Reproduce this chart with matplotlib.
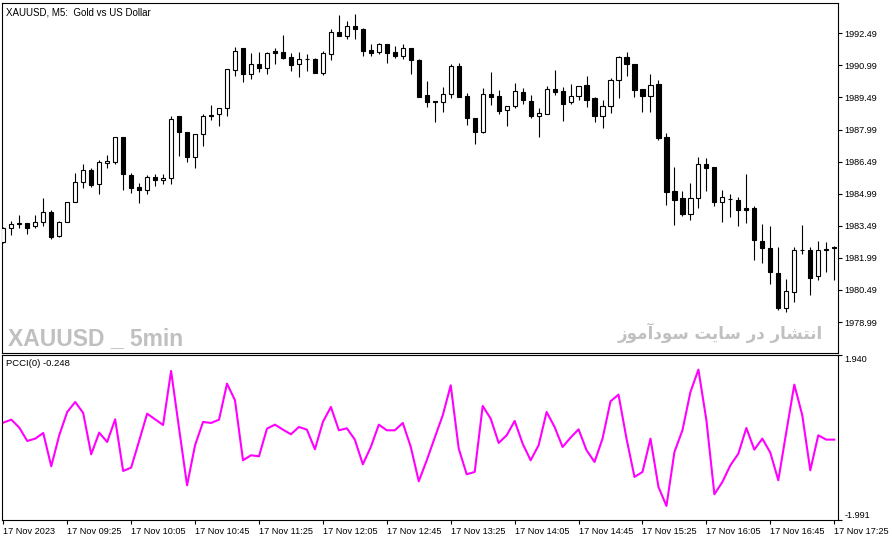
import matplotlib.pyplot as plt
from matplotlib.patches import Rectangle

plt.rcParams['font.family'] = ['Liberation Sans', 'DejaVu Sans']

# XAUUSD M5 candles, 17 Nov 2023 from 08:45
opens = [1982.75, 1983.37, 1983.56, 1983.62, 1983.47, 1983.65, 1984.12, 1983.00, 1983.65, 1984.62,
         1985.52, 1986.08, 1985.43, 1986.42, 1986.49, 1987.64, 1985.86, 1985.30, 1985.15, 1985.77,
         1985.62, 1985.71, 1988.61, 1987.86, 1986.71, 1987.77, 1988.67, 1988.70, 1989.01, 1990.79,
         1991.79, 1990.60, 1991.04, 1990.88, 1991.66, 1991.60, 1991.38, 1991.04, 1991.28, 1991.29,
         1990.63, 1991.54, 1992.54, 1992.35, 1992.85, 1992.69, 1991.72, 1991.60, 1992.00, 1991.63,
         1991.41, 1991.79, 1991.26, 1989.61, 1989.32, 1989.29, 1989.64, 1990.97, 1989.57, 1988.52,
         1987.89, 1989.64, 1989.56, 1988.89, 1989.10, 1989.73, 1989.32, 1988.64, 1988.73, 1989.89,
         1989.79, 1989.29, 1989.54, 1990.07, 1989.45, 1988.64, 1989.08, 1990.29, 1991.38, 1991.04,
         1989.89, 1989.57, 1990.13, 1987.64, 1985.12, 1984.77, 1984.03, 1984.77, 1986.36, 1986.24,
         1984.59, 1984.74, 1984.68, 1984.33, 1984.33, 1982.78, 1982.46, 1981.28, 1979.63, 1980.41,
         1982.34, 1982.37, 1981.13, 1982.40, 1982.50]
highs = [1983.43, 1983.71, 1983.99, 1983.62, 1983.99, 1984.80, 1984.21, 1983.71, 1984.62, 1985.96,
         1986.39, 1986.21, 1986.55, 1986.80, 1987.64, 1987.64, 1985.96, 1985.49, 1985.86, 1985.90,
         1985.90, 1988.64, 1988.62, 1987.86, 1987.77, 1988.70, 1989.14, 1988.98, 1990.82, 1991.85,
         1991.79, 1991.57, 1991.60, 1991.63, 1991.79, 1992.41, 1991.57, 1991.60, 1991.54, 1991.32,
         1991.66, 1992.69, 1993.35, 1993.07, 1993.38, 1992.72, 1992.00, 1992.04, 1992.00, 1991.91,
         1992.00, 1991.79, 1991.29, 1990.26, 1989.32, 1989.98, 1991.04, 1991.10, 1989.70, 1988.54,
         1989.92, 1990.69, 1989.82, 1989.10, 1990.17, 1989.92, 1989.61, 1988.98, 1990.01, 1990.79,
         1989.98, 1990.13, 1990.01, 1990.51, 1989.51, 1989.39, 1990.41, 1991.44, 1991.63, 1991.04,
         1989.89, 1990.60, 1990.32, 1987.83, 1986.24, 1985.12, 1985.49, 1986.71, 1986.67, 1986.24,
         1985.15, 1984.99, 1984.84, 1985.92, 1984.43, 1983.59, 1983.49, 1982.50, 1981.00, 1982.50,
         1983.53, 1982.50, 1982.78, 1982.75, 1982.56]
lows = [1982.68, 1983.06, 1983.37, 1983.09, 1983.37, 1983.49, 1982.87, 1982.97, 1983.65, 1984.62,
        1985.27, 1985.30, 1984.99, 1986.21, 1986.36, 1985.15, 1985.02, 1984.56, 1984.99, 1985.36,
        1985.43, 1985.43, 1986.74, 1986.49, 1986.21, 1987.23, 1988.42, 1988.17, 1988.64, 1990.51,
        1990.23, 1990.35, 1990.69, 1990.60, 1991.07, 1991.29, 1990.73, 1990.45, 1990.73, 1990.63,
        1990.54, 1991.26, 1992.35, 1992.22, 1992.22, 1991.44, 1991.41, 1991.54, 1991.10, 1991.35,
        1991.29, 1990.60, 1989.51, 1989.04, 1988.36, 1988.82, 1989.48, 1989.51, 1988.20, 1987.33,
        1987.83, 1989.14, 1988.73, 1988.14, 1989.01, 1989.20, 1988.54, 1987.64, 1988.73, 1989.61,
        1988.39, 1989.17, 1989.39, 1989.04, 1988.36, 1988.08, 1988.76, 1989.48, 1990.51, 1989.51,
        1988.82, 1988.80, 1987.49, 1984.46, 1983.53, 1983.93, 1983.77, 1984.34, 1985.12, 1984.40,
        1983.68, 1983.90, 1983.49, 1983.62, 1981.90, 1981.75, 1980.78, 1979.54, 1979.44, 1979.94,
        1982.16, 1980.25, 1980.97, 1981.34, 1980.97]
closes = [1983.37, 1983.56, 1983.62, 1983.37, 1983.65, 1984.12, 1982.97, 1983.65, 1984.59, 1985.52,
          1986.08, 1985.40, 1986.46, 1986.52, 1987.64, 1985.92, 1985.27, 1985.18, 1985.77, 1985.62,
          1985.74, 1988.48, 1987.86, 1986.71, 1987.77, 1988.61, 1988.61, 1988.98, 1990.82, 1991.66,
          1990.60, 1991.04, 1990.88, 1991.57, 1991.57, 1991.35, 1991.01, 1991.29, 1991.30, 1990.63,
          1991.57, 1992.54, 1992.35, 1992.82, 1992.69, 1991.66, 1991.57, 1992.00, 1991.57, 1991.44,
          1991.79, 1991.23, 1989.51, 1989.29, 1989.30, 1989.64, 1990.97, 1989.51, 1988.52, 1987.89,
          1989.64, 1989.51, 1988.86, 1989.10, 1989.79, 1989.36, 1988.64, 1988.76, 1989.89, 1989.76,
          1989.20, 1989.54, 1990.01, 1989.39, 1988.64, 1989.08, 1990.29, 1991.38, 1991.04, 1989.85,
          1989.57, 1990.07, 1987.61, 1985.08, 1984.71, 1984.03, 1984.77, 1986.36, 1986.21, 1984.62,
          1984.84, 1984.75, 1984.21, 1984.24, 1982.81, 1982.44, 1981.31, 1979.66, 1980.44, 1982.37,
          1982.36, 1981.06, 1982.37, 1982.34, 1982.44]

pcci = [0.336, 0.407, 0.217, -0.101, -0.045, 0.090, -0.704, 0.034, 0.590, 0.828,
        0.566, -0.418, 0.098, -0.125, 0.415, -0.816, -0.736, -0.101, 0.550, 0.415,
        0.280, 1.567, 0.193, -1.157, -0.204, 0.352, 0.328, 0.407, 1.265, 0.868,
        -0.561, -0.442, -0.466, 0.193, 0.288, 0.169, 0.058, 0.233, 0.169, -0.299,
        0.352, 0.709, 0.153, 0.201, -0.069, -0.657, -0.244, 0.288, 0.153, 0.153,
        0.328, -0.244, -1.062, -0.561, -0.021, 0.511, 1.225, -0.283, -0.895, -0.839,
        0.733, 0.431, -0.148, 0.034, 0.376, -0.164, -0.561, -0.204, 0.590, 0.233,
        -0.244, -0.021, 0.177, -0.323, -0.601, -0.045, 0.844, 1.003, -0.045, -0.958,
        -0.839, -0.045, -1.197, -1.649, -0.363, 0.153, 1.066, 1.599, 0.392, -1.371,
        -1.078, -0.681, -0.403, 0.209, -0.307, -0.045, -0.379, -1.038, 0.114, 1.241,
        0.511, -0.800, 0.034, -0.069, -0.069]

price_ticks = [1992.49, 1990.99, 1989.49, 1987.99, 1986.49, 1984.99, 1983.49, 1981.99, 1980.49, 1978.99]
time_labels = ['17 Nov 2023', '17 Nov 09:25', '17 Nov 10:05', '17 Nov 10:45', '17 Nov 11:25',
               '17 Nov 12:05', '17 Nov 12:45', '17 Nov 13:25', '17 Nov 14:05', '17 Nov 14:45',
               '17 Nov 15:25', '17 Nov 16:05', '17 Nov 16:45', '17 Nov 17:25']
pcci_range = [-1.991, 1.940]

fig = plt.figure(figsize=(8.92, 5.41), dpi=100)
W, H = 892, 541
left, right = 2.3, 838
ax = fig.add_axes([left / W, 1 - 353.3 / H, (right - left) / W, (353.3 - 2.5) / H])
ax2 = fig.add_axes([left / W, 1 - 520.3 / H, (right - left) / W, (520.3 - 355.3) / H])

n = len(opens)
xs = list(range(n))
bw = 0.52
for i in xs:
    o, h, l, c = opens[i], highs[i], lows[i], closes[i]
    ax.vlines(i, l, h, color='black', lw=0.8, zorder=2)
    face = 'white' if c >= o else 'black'
    ax.add_patch(Rectangle((i - bw / 2, min(o, c)), bw, abs(c - o), facecolor=face,
                           edgecolor='black', lw=0.8, zorder=3))

xlim = (-0.125, 104.47)
ax.set_xlim(*xlim)
ax.set_ylim(1977.53, 1993.93)
ax.set_xticks([])
ax.yaxis.tick_right()
ax.set_yticks(price_ticks)
ax.set_yticklabels(['%.2f' % p for p in price_ticks])
ax.tick_params(axis='y', length=3, width=0.8, pad=1.5, labelsize=6.6)
for s in ax.spines.values():
    s.set_linewidth(0.8)

ax.text(0.004, 0.985, 'XAUUSD, M5:  Gold vs US Dollar', transform=ax.transAxes,
        fontsize=7, va='top', ha='left')

# watermarks
fig.text(8 / W, 1 - 345 / H, 'XAUUSD _ 5min', color='#c0c0c0', fontsize=16.5,
         fontweight='bold', va='baseline')
fa = ('\uFEAF\uFEEE\uFEE3\uFE81\uFEA9\uFEEE\uFEB3 \uFE96\uFEF3\uFE8E\uFEB3 '
      '\uFEAD\uFEA9 \uFEAD\uFE8E\uFEB8\uFE98\uFEE7\uFE8D')
fig.text(823 / W, 1 - 339 / H, fa, color='#c0c0c0', fontsize=12, fontweight='bold',
         family=['DejaVu Sans'], ha='right', va='baseline')

# PCCI panel
ax2.plot(xs, pcci, color='#ff00ff', lw=1.5)
ax2.set_xlim(*xlim)
ax2.set_ylim(*pcci_range)
ax2.yaxis.tick_right()
ax2.set_yticks(pcci_range)
ylabs = ax2.set_yticklabels(['-1.991', '1.940'])
ylabs[0].set_va('bottom')
ylabs[1].set_va('top')
ax2.tick_params(axis='y', length=3, width=0.8, pad=1.5, labelsize=6.6)
ax2.set_xticks(list(range(0, n, 8)))
ax2.set_xticklabels(time_labels, ha='left')
ax2.tick_params(axis='x', length=3, width=0.8, pad=1.5, labelsize=6.6)
for s in ax2.spines.values():
    s.set_linewidth(0.8)
ax2.text(0.004, 0.975, 'PCCI(0) -0.248', transform=ax2.transAxes, fontsize=6.8,
         va='top', ha='left')

plt.savefig('out.png', dpi=100)
